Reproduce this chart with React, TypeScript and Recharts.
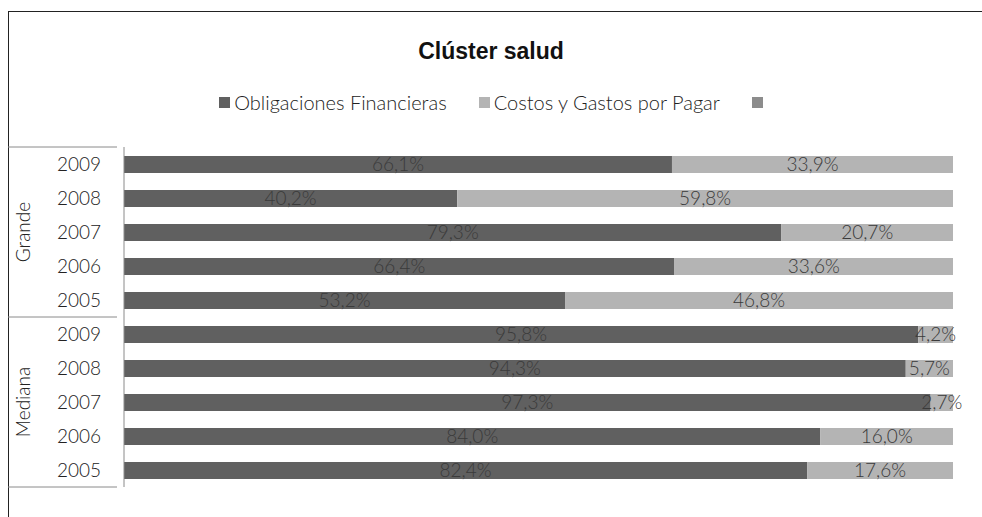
import { BarChart, Bar, XAxis, YAxis, LabelList } from "recharts";

const groups = ["Grande", "Grande", "Grande", "Grande", "Grande", "Mediana", "Mediana", "Mediana", "Mediana", "Mediana"];
const years = ["2009", "2008", "2007", "2006", "2005", "2009", "2008", "2007", "2006", "2005"];
const obligaciones = [66.1, 40.2, 79.3, 66.4, 53.2, 95.8, 94.3, 97.3, 84.0, 82.4];
const costos = [33.9, 59.8, 20.7, 33.6, 46.8, 4.2, 5.7, 2.7, 16.0, 17.6];
const seriesNames = ["Obligaciones Financieras", "Costos y Gastos por Pagar", ""];
const seriesColors = ["#606060", "#b4b4b4", "#8c8c8c"];

const data = years.map((y, i) => ({
  key: `${groups[i]}-${y}`,
  year: y,
  obligaciones: obligaciones[i],
  costos: costos[i],
  otro: 0,
}));

const FONT = "Lato, 'Open Sans', sans-serif";
const TEXT = "#3a3a3a";
const LINE = "#8a8a8a";

const fmt = (v: any) => `${Number(v).toFixed(1).replace(".", ",")}%`;

// year tick + the grouped "Grande"/"Mediana" table cells on the left
const CategoryTick = ({ x, y, index }: any) => {
  const band = 34;
  const top = y - band / 2;
  return (
    <g>
      <text x={101} y={y} dy={7} textAnchor="end" fontSize={19} fontWeight={300} fontFamily={FONT} fill="#222">
        {years[index]}
      </text>
      {index % 5 === 0 && <line x1={8} x2={x + 1} y1={top} y2={top} stroke={LINE} />}
      {index === years.length - 1 && (
        <line x1={8} x2={x + 1} y1={top + band} y2={top + band} stroke={LINE} />
      )}
      {index % 5 === 2 && (
        <text
          x={24}
          y={y}
          transform={`rotate(-90, 24, ${y})`}
          dy={6}
          textAnchor="middle"
          fontSize={19}
          fontWeight={300}
          fontFamily={FONT}
          fill="#222"
        >
          {groups[index]}
        </text>
      )}
    </g>
  );
};

export default function App() {
  return (
    <div style={{ position: "absolute", left: 0, top: 0, width: 982, height: 517, background: "#fff" }}>
      <div
        style={{
          position: "absolute",
          left: 8,
          top: 11,
          width: 974,
          height: 506,
          borderTop: "1px solid #222",
          borderLeft: "1px solid #222",
        }}
      />
      <div
        style={{
          position: "absolute",
          top: 38,
          width: 982,
          textAlign: "center",
          fontFamily: "'Liberation Sans', Arial, sans-serif",
          fontWeight: "bold",
          fontSize: 23,
          color: "#111",
        }}
      >
        Clúster salud
      </div>
      <div
        style={{
          position: "absolute",
          top: 90,
          left: 0,
          width: 982,
          display: "flex",
          justifyContent: "center",
          gap: 32,
          fontFamily: FONT,
          fontWeight: 300,
          fontSize: 20,
          color: "#222",
          boxSizing: "border-box",
        }}
      >
        {seriesNames.map((n, i) => (
          <span key={i} style={{ display: "flex", alignItems: "center", gap: 4 }}>
            <span style={{ width: 11, height: 11, background: seriesColors[i], display: "inline-block" }} />
            {n}
          </span>
        ))}
      </div>
      <BarChart
        width={982}
        height={517}
        data={data}
        layout="vertical"
        margin={{ top: 147, right: 29, left: 0, bottom: 30 }}
        style={{ position: "absolute", left: 0, top: 0 }}
      >
        <XAxis type="number" domain={[0, 100]} hide />
        <YAxis
          type="category"
          dataKey="key"
          width={124}
          axisLine={{ stroke: LINE }}
          tickLine={false}
          interval={0}
          tick={<CategoryTick />}
        />
        <Bar dataKey="obligaciones" name={seriesNames[0]} stackId="a" fill={seriesColors[0]} barSize={17} isAnimationActive={false}>
          <LabelList dataKey="obligaciones" position="center" formatter={fmt} fill={TEXT} fontSize={19} fontWeight={300} fontFamily={FONT} />
        </Bar>
        <Bar dataKey="costos" name={seriesNames[1]} stackId="a" fill={seriesColors[1]} barSize={17} isAnimationActive={false}>
          <LabelList dataKey="costos" position="center" formatter={fmt} fill={TEXT} fontSize={19} fontWeight={300} fontFamily={FONT} />
        </Bar>
        <Bar dataKey="otro" name={seriesNames[2]} stackId="a" fill={seriesColors[2]} barSize={17} isAnimationActive={false} />
      </BarChart>
    </div>
  );
}
